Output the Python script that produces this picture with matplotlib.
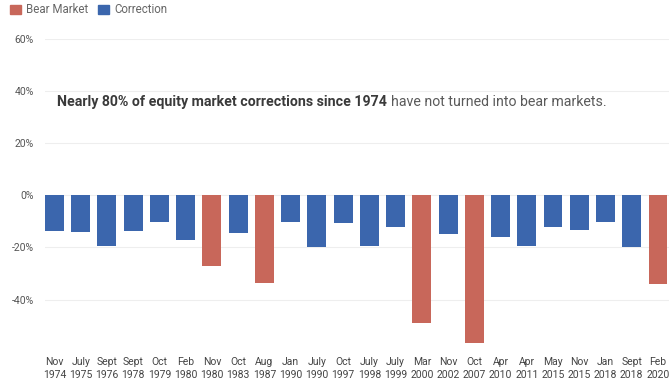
import numpy as np
import matplotlib
matplotlib.use("Agg")
import matplotlib.pyplot as plt
from matplotlib.patches import Patch

plt.rcParams['font.family'] = ['Roboto', 'DejaVu Sans']

# data
months = ["Nov", "July", "Sept", "Sept", "Oct", "Feb", "Nov", "Oct", "Aug", "Jan", "July", "Oct",
          "July", "July", "Mar", "Nov", "Oct", "Apr", "Apr", "May", "Nov", "Jan", "Sept", "Feb"]
years = ["1974", "1975", "1976", "1978", "1979", "1980", "1980", "1983", "1987", "1990", "1990", "1997",
         "1998", "1999", "2000", "2002", "2007", "2010", "2011", "2015", "2015", "2018", "2018", "2020"]
declines = [-13.7, -14.2, -19.6, -13.6, -10.4, -17.1, -27.1, -14.4, -33.5, -10.2, -19.9, -10.8,
            -19.3, -12.1, -49.1, -14.7, -56.8, -16.0, -19.4, -12.3, -13.3, -10.2, -19.8, -33.9]
is_bear = [False, False, False, False, False, False, True, False, True, False, False, False,
           False, False, True, False, True, False, False, False, False, False, False, True]
yticks = [-40, -20, 0, 20, 40, 60]

red = "#C8675A"
blue = "#3B66AD"

fig = plt.figure(figsize=(6.69, 3.9), dpi=100)
ax = fig.add_axes([45/669, 0.105, 624/669, 0.795])

x = np.arange(len(declines))
colors = [red if b else blue for b in is_bear]
ax.bar(x, declines, 0.72, color=colors, zorder=3)

ax.set_xlim(-0.36, 23.42)
ax.set_ylim(-59, 60)
ax.set_yticks(yticks)
ax.set_yticklabels(["%d%%" % t for t in yticks])
ax.set_xticks(x)
ax.set_xticklabels(["%s\n%s" % (m, y) for m, y in zip(months, years)], linespacing=1.3)
ax.tick_params(axis='both', length=0, labelsize=7.5, colors="#555555")
ax.tick_params(axis='x', pad=6, colors="#444444")
ax.tick_params(axis='y', pad=8)
for s in ax.spines.values():
    s.set_visible(False)
ax.grid(axis='y', color="#eeeeee", lw=0.8, zorder=0)

# annotation, bold part then normal part
t1 = fig.text(57/669, 1 - 102/390, "Nearly 80% of equity market corrections since 1974",
              fontsize=10.2, fontweight='bold', color="#3a3a3a", va='center')
fig.canvas.draw()
bb = t1.get_window_extent()
fig.text(bb.x1/669 + 4/669, 1 - 102/390, "have not turned into bear markets.",
         fontsize=10.2, color="#5a5a5a", va='center')

handles = [Patch(color=red, label="Bear Market"), Patch(color=blue, label="Correction")]
fig.legend(handles=handles, loc='upper left', bbox_to_anchor=(0.01, 1.0), ncol=2, frameon=False,
           handlelength=0.95, handleheight=0.95, handletextpad=0.4, columnspacing=0.9,
           fontsize=8.3, labelcolor="#666666", borderaxespad=0.1, borderpad=0.2)

fig.savefig("out.png", dpi=100)
